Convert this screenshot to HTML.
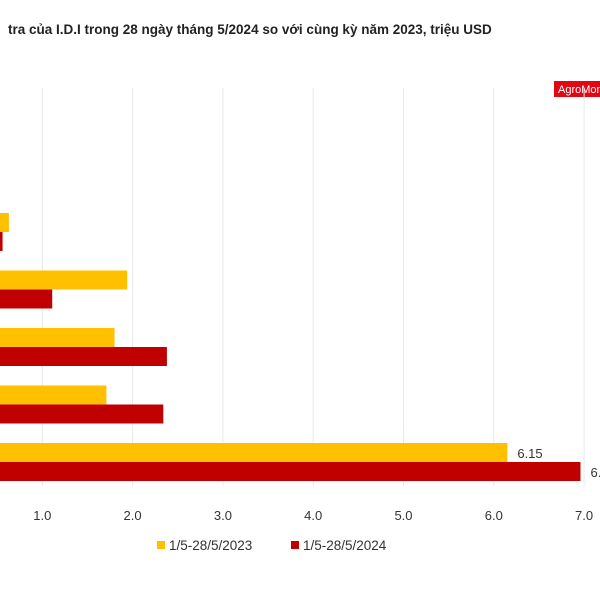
<!DOCTYPE html>
<html><head><meta charset="utf-8"><style>
body{margin:0;width:600px;height:600px;overflow:hidden;background:#fff;font-family:"Liberation Sans",Arial,sans-serif}
</style></head><body>
<svg width="600" height="600" style="position:absolute;left:0;top:0">
<text x="8" y="34" font-size="13.5" font-weight="bold" fill="#222">tra của I.D.I trong 28 ngày tháng 5/2024 so với cùng kỳ năm 2023, triệu USD</text>
<rect x="554" y="81" width="50" height="16" fill="#e30613"/>
<text x="558" y="93" font-size="11" fill="#fff">AgroMonitor</text>
<g id="grid"></g><g id="bars"></g><g id="ticks"></g>
<rect x="157" y="541" width="8" height="8" fill="#ffc000"/>
<text x="169" y="550" font-size="13.5" fill="#333">1/5-28/5/2023</text>
<rect x="291" y="541" width="8" height="8" fill="#c00000"/>
<text x="303" y="550" font-size="13.5" fill="#333">1/5-28/5/2024</text>
</svg>
<script>
const ticks=[1,2,3,4,5,6,7];
const tickLabels=["1.0","2.0","3.0","4.0","5.0","6.0","7.0"];
const v2023=[0.63,1.94,1.8,1.71,6.15];
const v2024=[0.56,1.11,2.38,2.34,6.96];
const labels2023=["","","","","6.15"];
const labels2024=["","","","","6.95"];
const NS="http://www.w3.org/2000/svg";
const X=v=>-48+v*90.3;
const Y=i=>213+i*57.5;
function mk(t,a,p){const e=document.createElementNS(NS,t);for(const k in a)e.setAttribute(k,a[k]);document.getElementById(p).appendChild(e);return e;}
ticks.forEach((t,i)=>{
 const g=mk('line',{x1:X(t),x2:X(t),y1:88,y2:486,stroke:'#e8e8e8','stroke-width':1},'grid');
 
 
 const l=mk('text',{x:X(t),y:520,'font-size':13,fill:'#333','text-anchor':'middle'},'ticks');
 l.textContent=tickLabels[i];
 
 
});
v2023.forEach((v,i)=>{
 const b=mk('rect',{x:X(0),y:Y(i),width:X(v)-X(0),height:19,fill:'#ffc000'},'bars');
 
 
 if(labels2023[i]){const t=mk('text',{x:X(v)+10,y:Y(i)+15,'font-size':13,fill:'#333'},'bars');t.textContent=labels2023[i];
 
 }
});
v2024.forEach((v,i)=>{
 const b=mk('rect',{x:X(0),y:Y(i)+19,width:X(v)-X(0),height:19,fill:'#c00000'},'bars');
 
 
 if(labels2024[i]){const t=mk('text',{x:X(v)+10,y:Y(i)+34,'font-size':13,fill:'#333'},'bars');t.textContent=labels2024[i];
 
 }
});
</script>
</body></html>
